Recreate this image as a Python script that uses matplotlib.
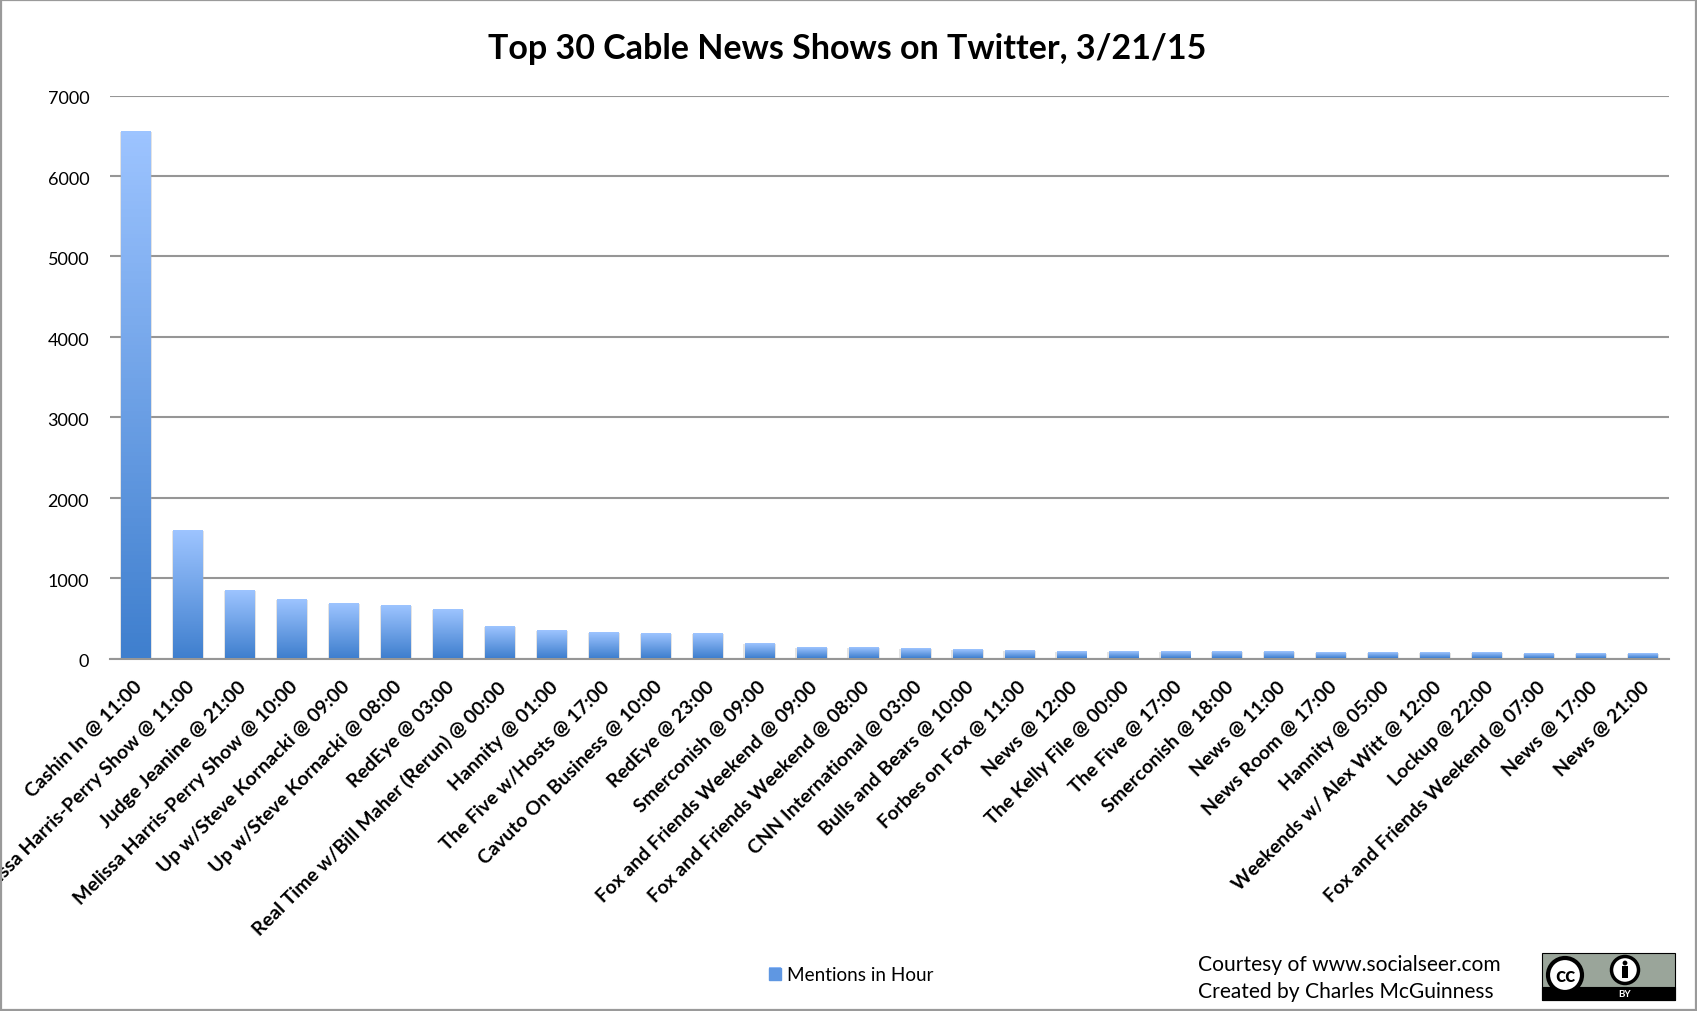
import numpy as np
import matplotlib
matplotlib.use('Agg')
import matplotlib.pyplot as plt
from matplotlib.colors import LinearSegmentedColormap
from matplotlib.patches import Circle, Rectangle, Patch
from matplotlib.transforms import ScaledTranslation

plt.rcParams['font.family'] = ['Lato', 'DejaVu Sans']

shows = ['Cashin In @ 11:00', 'Melissa Harris-Perry Show @ 11:00', 'Judge Jeanine @ 21:00',
         'Melissa Harris-Perry Show @ 10:00', 'Up w/Steve Kornacki @ 09:00', 'Up w/Steve Kornacki @ 08:00',
         'RedEye @ 03:00', 'Real Time w/Bill Maher (Rerun) @ 00:00', 'Hannity @ 01:00',
         'The Five w/Hosts @ 17:00', 'Cavuto On Business @ 10:00', 'RedEye @ 23:00',
         'Smerconish @ 09:00', 'Fox and Friends Weekend @ 09:00', 'Fox and Friends Weekend @ 08:00',
         'CNN International @ 03:00', 'Bulls and Bears @ 10:00', 'Forbes on Fox @ 11:00',
         'News @ 12:00', 'The Kelly File @ 00:00', 'The Five @ 17:00', 'Smerconish @ 18:00',
         'News @ 11:00', 'News Room @ 17:00', 'Hannity @ 05:00', 'Weekends w/ Alex Witt @ 12:00',
         'Lockup @ 22:00', 'Fox and Friends Weekend @ 07:00', 'News @ 17:00', 'News @ 21:00']
mentions = [6540, 1583, 843, 731, 674, 653, 603, 388, 347, 318,
            310, 303, 178, 129, 125, 112, 100, 91, 83, 79,
            79, 79, 79, 70, 66, 66, 64, 62, 58, 58]
y_ticks = [0, 1000, 2000, 3000, 4000, 5000, 6000, 7000]

W, H = 1697, 1012
grey = '#969696'
bar_width = 0.57

fig = plt.figure(figsize=(W / 100, H / 100), dpi=100)
ax = fig.add_axes([110 / W, 1 - 659.5 / H, 1559 / W, 563 / H])

x = np.arange(len(shows))
gradient = LinearSegmentedColormap.from_list('bar', ['#3F7FCE', '#9DC4FF'])
grad = np.linspace(0, 1, 128).reshape(-1, 1)

# soft shadow then the gradient fill on top
ax.bar(x, mentions, width=bar_width + 0.05, color='#b0b0b0', alpha=0.35, zorder=2)
bars = ax.bar(x, mentions, width=bar_width, color='none', zorder=3)
for b in bars:
    ax.imshow(grad, cmap=gradient, origin='lower', aspect='auto', zorder=3,
              extent=(b.get_x(), b.get_x() + b.get_width(), 0, b.get_height()))

ax.set_xlim(-0.5, len(shows) - 0.5)
ax.set_ylim(0, 7000)
ax.set_yticks(y_ticks)
ax.grid(axis='y', color=grey, linewidth=1.5, zorder=1)
ax.set_axisbelow(True)
ax.tick_params(axis='both', length=0)
ax.tick_params(axis='y', labelsize=13, pad=15)
ax.set_xticks(x)
ax.set_xticklabels(shows, rotation=45, ha='right', va='top', rotation_mode='anchor',
                   fontsize=14, fontweight='bold')
ax.tick_params(axis='x', pad=16)

# labels sit a little off their ticks in the original
y_shift = ScaledTranslation(0, -1.5 / 100, fig.dpi_scale_trans)
for label in ax.get_yticklabels():
    label.set_transform(label.get_transform() + y_shift)
x_shift = ScaledTranslation(-2.5 / 100, 3.5 / 100, fig.dpi_scale_trans)
for label in ax.get_xticklabels():
    label.set_transform(label.get_transform() + x_shift)

for s in ['top', 'left', 'right']:
    ax.spines[s].set_visible(False)
ax.spines['bottom'].set_color(grey)
ax.spines['bottom'].set_linewidth(1.5)

fig.text(847 / W, 1 - 49 / H, 'Top 30 Cable News Shows on Twitter, 3/21/15',
         ha='center', va='center', fontsize=24.5, fontweight='bold')

fig.legend(handles=[Patch(color='#5F97E2', label='Mentions in Hour')], frameon=False, fontsize=13.6,
           loc='center left', bbox_to_anchor=(752 / W, 1 - 976 / H),
           handlelength=0.65, handleheight=0.65, handletextpad=0.3)

fig.text(1198 / W, 1 - 965 / H, 'Courtesy of www.socialseer.com', va='center', fontsize=15.1)
fig.text(1198 / W, 1 - 992 / H, 'Created by Charles McGuinness', va='center', fontsize=15.1)

# overlay in pixel coords for the outer frame and the CC badge
over = fig.add_axes([0, 0, 1, 1], zorder=5)
over.add_patch(Rectangle((1, 1), W - 2, H - 2, fill=False, edgecolor='#9a9a9a', linewidth=1.6))
over.add_patch(Rectangle((1542, 954), 133, 47, facecolor='#9AA59A', edgecolor='black', linewidth=0.8))
over.add_patch(Rectangle((1542, 988), 133, 13, facecolor='black', edgecolor='black', linewidth=0.8))
over.add_patch(Circle((1565, 976), 17, facecolor='white', edgecolor='black', linewidth=3))
over.text(1565, 976, 'cc', ha='center', va='center', fontsize=15, fontweight='bold')
over.add_patch(Circle((1625, 971), 13.5, facecolor='white', edgecolor='black', linewidth=2.5))
over.add_patch(Circle((1625, 964), 2.4, facecolor='black', edgecolor='none'))
over.add_patch(Rectangle((1622, 967), 6, 12, facecolor='black', edgecolor='none'))
over.text(1625, 995, 'BY', ha='center', va='center', fontsize=7, fontweight='bold', color='white')
over.imshow(grad, cmap=gradient, origin='lower', aspect='auto', extent=(769, 780.5, 980, 968))
over.set_xlim(0, W)
over.set_ylim(H, 0)
over.axis('off')

fig.savefig('out.png', dpi=100)
